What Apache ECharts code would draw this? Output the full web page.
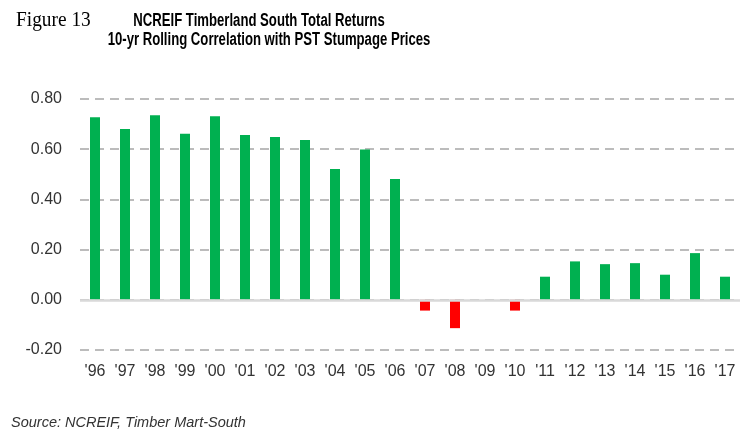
<!DOCTYPE html>
<html>
<head>
<meta charset="utf-8">
<script src="https://cdn.jsdelivr.net/npm/echarts@6/dist/echarts.min.js"></script>
<style>
  html, body { margin: 0; padding: 0; background: #fff; }
  #main { width: 752px; height: 432px; }
</style>
</head>
<body>
<div id="main"></div>
<script>
// years along the x axis
var years = ["'96", "'97", "'98", "'99", "'00", "'01", "'02", "'03", "'04", "'05", "'06",
             "'07", "'08", "'09", "'10", "'11", "'12", "'13", "'14", "'15", "'16", "'17"];

// 10-yr rolling correlation
var correlation = [0.727, 0.68, 0.735, 0.662, 0.731, 0.657, 0.649, 0.637, 0.521, 0.599, 0.481,
                   -0.043, -0.113, 0, -0.043, 0.092, 0.153, 0.142, 0.146, 0.10, 0.186, 0.092];

var yTicks = [-0.2, 0, 0.2, 0.4, 0.6, 0.8];

var sans = "'Liberation Sans', Arial, sans-serif";

var myChart = echarts.init(document.getElementById('main'));

// no narrow font here, so the heading texts get squeezed a bit with scaleX
var option = {
  animation: false,
  backgroundColor: '#fff',
  graphic: [
    {
      type: 'text', x: 16, y: 20, scaleX: 0.88,
      style: { text: 'Figure 13', font: "22px 'Liberation Serif', serif", fill: '#000', textVerticalAlign: 'middle' }
    },
    {
      type: 'text', x: 259, y: 21, scaleX: 0.73,
      style: { text: 'NCREIF Timberland South Total Returns', font: 'bold 18px ' + sans, fill: '#000',
               textAlign: 'center', textVerticalAlign: 'middle' }
    },
    {
      type: 'text', x: 269, y: 40, scaleX: 0.73,
      style: { text: '10-yr Rolling Correlation with PST Stumpage Prices', font: 'bold 18px ' + sans, fill: '#000',
               textAlign: 'center', textVerticalAlign: 'middle' }
    },
    {
      type: 'text', x: 11, y: 423,
      style: { text: 'Source: NCREIF, Timber Mart-South', font: 'italic 14.5px ' + sans, fill: '#333',
               textVerticalAlign: 'middle' }
    }
  ],
  grid: { left: 80, right: 12, top: 99, bottom: 82, containLabel: false },
  xAxis: {
    type: 'category',
    data: years,
    axisLine: { show: false, onZero: false },
    axisTick: { show: false },
    axisLabel: { interval: 0, margin: 14, fontFamily: sans, fontSize: 16, color: '#333' }
  },
  yAxis: {
    type: 'value',
    min: yTicks[0],
    max: yTicks[yTicks.length - 1],
    interval: 0.2,
    axisLine: { show: false },
    axisTick: { show: false },
    axisLabel: {
      margin: 18, fontFamily: sans, fontSize: 16, color: '#333',
      formatter: function (v) { return v.toFixed(2); }
    },
    splitLine: { lineStyle: { color: '#a6a6a6', width: 1.5, type: [9, 6] } }
  },
  series: [
    {
      type: 'bar',
      data: correlation.map(function (v) {
        return { value: v, itemStyle: { color: v < 0 ? '#ff0000' : '#00b050' } };
      }),
      barWidth: 10,
      markLine: {
        silent: true,
        symbol: 'none',
        label: { show: false },
        lineStyle: { color: '#d9d9d9', width: 2.5, type: 'solid' },
        data: [{ yAxis: 0 }]
      }
    }
  ]
};

myChart.setOption(option);
</script>
</body>
</html>
